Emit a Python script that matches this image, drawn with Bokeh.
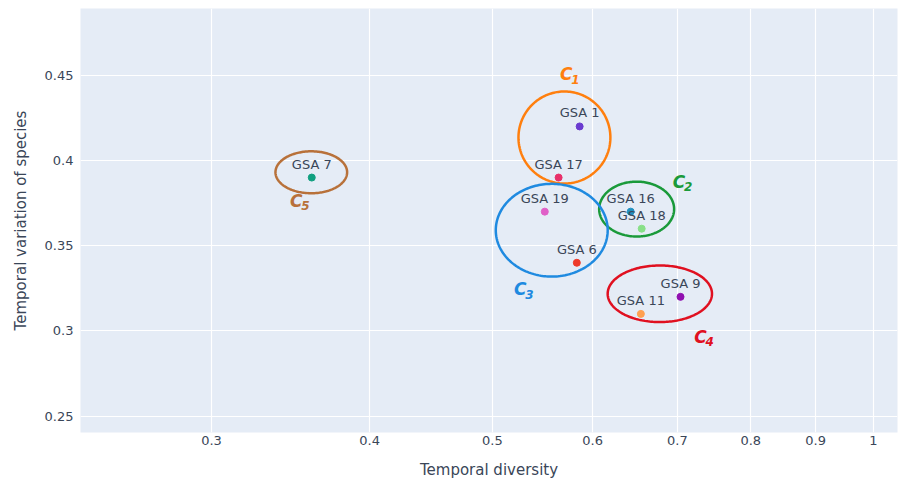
import numpy as np
from bokeh.plotting import figure
from bokeh.models import ColumnDataSource, FixedTicker, CustomJSTickFormatter, Range1d
from bokeh.core.properties import value
from bokeh.embed import file_html
from bokeh.resources import INLINE

# ---- data ----
names = ["GSA 1", "GSA 17", "GSA 19", "GSA 16", "GSA 18", "GSA 6", "GSA 9", "GSA 11", "GSA 7"]
diversity = [0.586, 0.564, 0.550, 0.643, 0.656, 0.583, 0.704, 0.655, 0.360]
variation = [0.42, 0.39, 0.37, 0.37, 0.36, 0.34, 0.32, 0.31, 0.39]
point_colors = ["#6a3bd0", "#e8306a", "#e060c8", "#2090c0", "#88e088", "#ee3a2a", "#9010b0", "#ffa050", "#10a080"]

x_ticks = [0.3, 0.4, 0.5, 0.6, 0.7, 0.8, 0.9, 1.0]
y_ticks = [0.25, 0.3, 0.35, 0.4, 0.45]

# clusters: centre (x, y), half-width in log10 units, half-height in y units
cl_letter = ["C", "C", "C", "C", "C"]
cl_index = ["1", "2", "3", "4", "5"]
cl_colors = ["#ff7f0e", "#1a9a3a", "#1f8ae0", "#e01020", "#b8713a"]
cl_cx = [0.570, 0.650, 0.557, 0.678, 0.3597]
cl_cy = [0.4135, 0.3715, 0.3591, 0.3218, 0.3931]
cl_rx = [0.0363, 0.0296, 0.0442, 0.0412, 0.0283]
cl_ry = [0.0270, 0.0161, 0.0272, 0.0166, 0.0123]
cl_lx = [0.572, 0.702, 0.526, 0.730, 0.350]
cl_ly = [0.4505, 0.3875, 0.3245, 0.2965, 0.3765]

FONT = "DejaVu Sans"
TXT = "#3a4658"

p = figure(width=898, height=483, x_axis_type="log",
           x_range=Range1d(0.2364, 1.0446), y_range=Range1d(0.2404, 0.4892),
           output_backend="svg", toolbar_location=None,
           min_border_left=80, min_border_right=1, min_border_top=8, min_border_bottom=51)
p.background_fill_color = "#e5ecf6"
p.border_fill_color = "white"
p.outline_line_color = None

p.xgrid.grid_line_color = "white"
p.ygrid.grid_line_color = "white"
p.xgrid.grid_line_width = 1.2
p.ygrid.grid_line_width = 1.2

p.xaxis.ticker = FixedTicker(ticks=x_ticks)
p.yaxis.ticker = FixedTicker(ticks=y_ticks)
p.xaxis.formatter = CustomJSTickFormatter(code="return parseFloat(tick.toFixed(2)).toString();")
p.yaxis.formatter = CustomJSTickFormatter(code="return parseFloat(tick.toFixed(2)).toString();")
for ax in (p.xaxis[0], p.yaxis[0]):
    ax.axis_line_color = None
    ax.major_tick_line_color = None
    ax.minor_tick_line_color = None
    ax.major_tick_out = 0
    ax.major_tick_in = 0
    ax.minor_tick_out = 0
    ax.minor_tick_in = 0
    ax.major_label_text_font = FONT
    ax.major_label_text_font_size = "13px"
    ax.major_label_text_color = TXT
    ax.axis_label_text_font = FONT
    ax.axis_label_text_font_size = "15px"
    ax.axis_label_text_font_style = "normal"
    ax.axis_label_text_color = TXT
p.xaxis.axis_label = "Temporal diversity"
p.yaxis.axis_label = "Temporal variation of species"
p.xaxis.major_label_standoff = 3
p.xaxis.axis_label_standoff = 13
p.yaxis.major_label_standoff = 7
p.yaxis.axis_label_standoff = 12

# cluster ellipses
t = np.linspace(0, 2 * np.pi, 200)
for cx, cy, rx, ry, c in zip(cl_cx, cl_cy, cl_rx, cl_ry, cl_colors):
    xs = 10 ** (np.log10(cx) + rx * np.cos(t))
    ys = cy + ry * np.sin(t)
    p.line(xs, ys, line_color=c, line_width=2.5)

src = ColumnDataSource(dict(x=diversity, y=variation, name=names, color=point_colors))
p.scatter("x", "y", source=src, size=7, fill_color="color", line_color="color")
p.text("x", "y", text="name", source=src, text_align="center", text_baseline="bottom",
       y_offset=-6, text_font=value(FONT), text_font_size="13px", text_color=TXT)

csrc = ColumnDataSource(dict(x=cl_lx, y=cl_ly, t=cl_letter, i=cl_index, c=cl_colors))
p.text("x", "y", text="t", source=csrc, text_color="c", text_align="center",
       text_baseline="middle", text_font=value(FONT), text_font_size="17px",
       text_font_style="bold italic")
p.text("x", "y", text="i", source=csrc, text_color="c", text_align="left",
       text_baseline="middle", x_offset=5, y_offset=5, text_font=value(FONT),
       text_font_size="12px", text_font_style="bold italic")

open("out.html", "w").write(file_html(p, INLINE))
